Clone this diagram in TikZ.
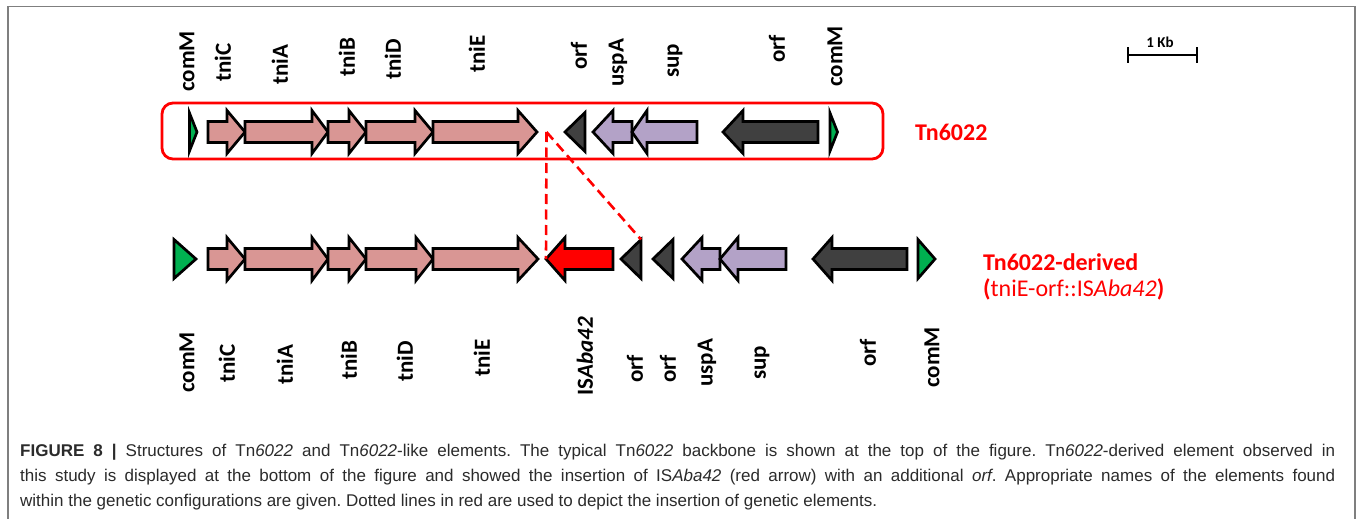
\documentclass[tikz,border=0pt]{standalone}
\usepackage{fontspec}
\usepackage{graphicx}
\setmainfont{Liberation Sans}
\newfontfamily\lblfont{Carlito}
\definecolor{genepink}{HTML}{D99694}
\definecolor{genelilac}{HTML}{B3A2C7}
\definecolor{genedark}{HTML}{404040}
\definecolor{genegreen}{HTML}{00B050}
\definecolor{insred}{HTML}{FF0000}
\definecolor{framegray}{HTML}{7F7F7F}
\definecolor{captext}{HTML}{2B2B2B}
\frenchspacing

% right-pointing gene: name, start x, head x, tip x, centre y, fill
\newcommand\rgene[6]{%
  \draw[gene,fill=#6] (#2,#5-10.5) -- (#3,#5-10.5) -- (#3,#5-21.5) -- (#4,#5)
    -- (#3,#5+21.5) -- (#3,#5+10.5) -- (#2,#5+10.5) -- cycle;
  \coordinate (#1) at (#4,#5);}
% left-pointing gene: name, tip x, head x, end x, centre y, fill
\newcommand\lgene[6]{%
  \draw[gene,fill=#6] (#4,#5-10.5) -- (#3,#5-10.5) -- (#3,#5-21.5) -- (#2,#5)
    -- (#3,#5+21.5) -- (#3,#5+10.5) -- (#4,#5+10.5) -- cycle;
  \coordinate (#1) at (#2,#5);}
% small left-pointing triangle: name, tip x, base x, centre y
\newcommand\ltri[4]{%
  \draw[gene,fill=genedark] (#3,#4-19.5) -- (#2,#4) -- (#3,#4+19.5) -- cycle;
  \coordinate (#1) at (#3,#4-19.5);}
% right-pointing triangle: name, base x, tip x, centre y
\newcommand\rtri[4]{%
  \draw[gene,fill=genegreen] (#2,#4-19.5) -- (#3,#4) -- (#2,#4+19.5) -- cycle;
  \coordinate (#1) at (#3,#4);}

% caption lines
\newcommand\capfont{\fontsize{17}{20}\selectfont}
\newcommand\capone{\textbf{FIGURE 8 |} Structures of Tn\textit{6022} and Tn\textit{6022}-like elements. The typical Tn\textit{6022} backbone is shown at the top of the figure. Tn\textit{6022}-derived element observed in}
\newcommand\captwo{this study is displayed at the bottom of the figure and showed the insertion of IS\textit{Aba42} (red arrow) with an additional \textit{orf}. Appropriate names of the elements found}
\newcommand\capthree{within the genetic configurations are given. Dotted lines in red are used to depict the insertion of genetic elements.}
\newlength\capwd
\newlength\capfullwd

\begin{document}
% condense the caption face so the last line ends where it should,
% and spread the two full lines over the whole measure
\settowidth\capwd{\capfont\capthree}
\pgfmathsetmacro\capsx{857/\capwd}
\pgfmathsetlength\capfullwd{1315pt/\capsx}
\begin{tikzpicture}[x=1pt,y=-1pt,
  gene/.style={draw=black,line width=2.7pt,line join=miter},
  glabel/.style={font=\lblfont\bfseries\fontsize{23}{26}\selectfont,rotate=90,anchor=west,inner sep=0pt},
  tnlabel/.style={font=\lblfont\bfseries\fontsize{24}{28}\selectfont,text=insred,anchor=west,inner sep=0pt},
  insline/.style={draw=insred,line width=2.6pt,dash pattern=on 10pt off 5.5pt},
  capline/.style={anchor=base west,inner sep=0pt,text=captext,font=\capfont}]
\useasboundingbox (0,0) rectangle (1358,519);
\fill[white] (0,0) rectangle (1358,519);

% outer frame
\draw[framegray,line width=1.6pt] (8,519) -- (8,6.5) -- (1355,6.5) -- (1355,519);

% ---------- Tn6022 backbone ----------
\draw[insred,line width=2.8pt,rounded corners=11pt] (162,103) rectangle (883,159);
\draw[gene,fill=genegreen] (189.5,113) -- (197,132) -- (189.5,151) -- cycle;
\rgene{tC}{208}{227}{245}{132}{genepink}
\rgene{tA}{245}{312}{328}{132}{genepink}
\rgene{tB}{328}{349}{366}{132}{genepink}
\rgene{tD}{366}{415}{433}{132}{genepink}
\rgene{tE}{433}{518}{537}{132}{genepink}
\ltri{tO1}{565}{585}{132}
\lgene{tU}{593}{613}{632}{132}{genelilac}
\lgene{tS}{632}{647}{697}{132}{genelilac}
\lgene{tO2}{723}{743}{818}{132}{genedark}
\draw[gene,fill=genegreen] (830,113) -- (837.5,132) -- (830,151) -- cycle;

\node[glabel] (lt1) at (187,92) {comM};
\node[glabel] (lt2) at (223,82) {tniC};
\node[glabel] (lt3) at (280,85) {tniA};
\node[glabel] (lt4) at (347,77) {tniB};
\node[glabel] (lt5) at (393,80) {tniD};
\node[glabel] (lt6) at (477,73) {tniE};
\node[glabel] (lt7) at (579,70) {orf};
\node[glabel] (lt8) at (618,87) {uspA};
\node[glabel] (lt9) at (675,78) {sup};
\node[glabel] (lt10) at (777,63) {orf};
\node[glabel] (lt11) at (835,87) {comM};

\node[tnlabel] (tn) at (915,132) {Tn6022};

% ---------- Tn6022-derived element ----------
\rtri{bM1}{174}{196}{259}
\rgene{bC}{208}{227}{245}{259}{genepink}
\rgene{bA}{245}{312}{328}{259}{genepink}
\rgene{bB}{328}{349}{366}{259}{genepink}
\rgene{bD}{366}{416}{433}{259}{genepink}
\rgene{bE}{433}{518}{538}{259}{genepink}
\lgene{bIS}{546}{565}{613}{259}{insred}
\ltri{bO1}{621}{641}{259}
\ltri{bO2}{653}{673}{259}
\lgene{bU}{682}{702}{720}{259}{genelilac}
\lgene{bS}{720}{738}{786}{259}{genelilac}
\lgene{bO3}{813}{832}{907}{259}{genedark}
\rtri{bM2}{918}{935}{259}

\node[glabel] (lb1) at (187,393) {comM};
\node[glabel] (lb2) at (227,383) {tniC};
\node[glabel] (lb3) at (285,385) {tniA};
\node[glabel] (lb4) at (349,380) {tniB};
\node[glabel] (lb5) at (405,382) {tniD};
\node[glabel] (lb6) at (482,377) {tniE};
\node[glabel] (lb7) at (585,396) {IS\textit{Aba42}};
\node[glabel] (lb8) at (635,383) {orf};
\node[glabel] (lb9) at (668,383) {orf};
\node[glabel] (lb10) at (707,387) {uspA};
\node[glabel] (lb11) at (762,380) {sup};
\node[glabel] (lb12) at (868,367) {orf};
\node[glabel] (lb13) at (932,388) {comM};

\node[tnlabel] (tnd) at (983,262) {Tn6022-derived};
\node[tnlabel,font=\lblfont\fontsize{24}{28}\selectfont] (tnd2) at (983,289)
  {\textbf{(}tniE-orf::IS\textit{Aba42}\textbf{)}};

% insertion site
\coordinate (ins) at (546.5,132);
\draw[insline] (ins) -- (bIS);
\draw[insline] (ins) -- (bO1);

% scale bar
\draw[line width=1.6pt] (1128,55) -- (1197,55);
\draw[line width=1.6pt] (1128,47.5) -- (1128,63);
\draw[line width=1.6pt] (1197,47.5) -- (1197,63);
\node[font=\lblfont\bfseries\fontsize{15}{18}\selectfont,inner sep=0pt] (kb) at (1160,42) {1 Kb};

% caption
\node[capline] (cap1) at (20,456.5) {\scalebox{\capsx}[1]{\makebox[\capfullwd][s]{\capone}}};
\node[capline] (cap2) at (20,481.5) {\scalebox{\capsx}[1]{\makebox[\capfullwd][s]{\captwo}}};
\node[capline] (cap3) at (20,506.5) {\scalebox{\capsx}[1]{\capthree}};
\end{tikzpicture}
\end{document}
